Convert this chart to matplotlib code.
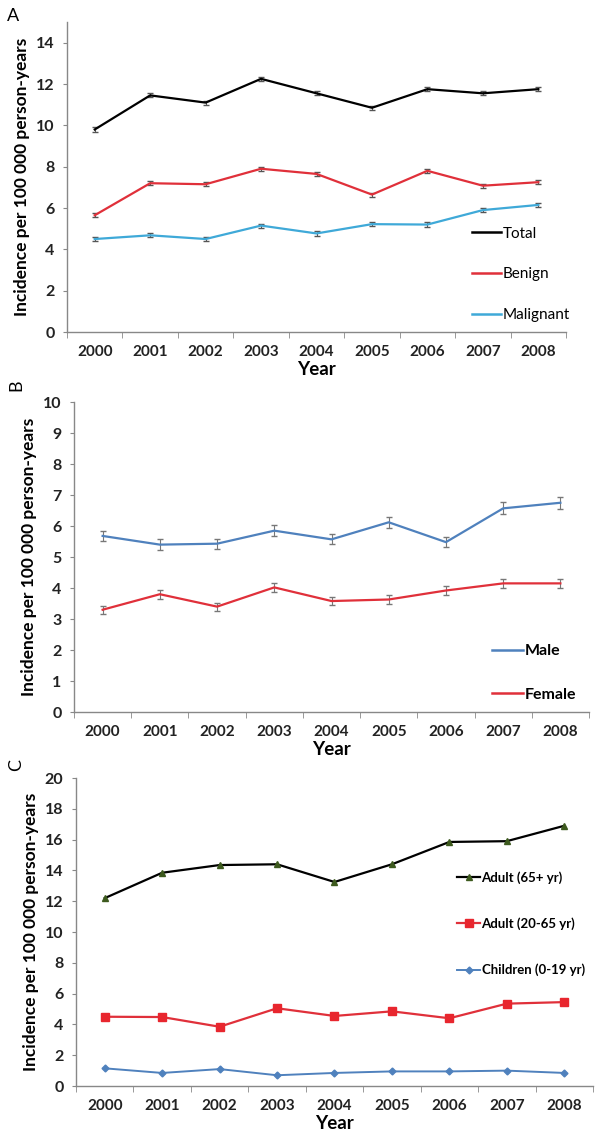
import matplotlib
matplotlib.use('Agg')
import matplotlib.pyplot as plt
from matplotlib.lines import Line2D
import numpy as np

plt.rcParams['font.family'] = ['Lato', 'DejaVu Sans']

years = ['2000', '2001', '2002', '2003', '2004', '2005', '2006', '2007', '2008']

# Panel A: by behaviour
total = [9.8, 11.45, 11.1, 12.25, 11.55, 10.85, 11.75, 11.55, 11.75]
benign = [5.65, 7.2, 7.15, 7.9, 7.65, 6.65, 7.8, 7.08, 7.25]
malignant = [4.5, 4.68, 4.5, 5.15, 4.77, 5.22, 5.2, 5.9, 6.15]
err_a = [0.1, 0.1, 0.1, 0.1, 0.1, 0.1, 0.1, 0.1, 0.1]

# Panel B: by sex
male = [5.68, 5.4, 5.43, 5.85, 5.57, 6.12, 5.48, 6.57, 6.75]
female = [3.3, 3.8, 3.4, 4.02, 3.58, 3.63, 3.92, 4.15, 4.15]
err_male = [0.17, 0.17, 0.16, 0.17, 0.16, 0.18, 0.16, 0.19, 0.19]
err_female = [0.13, 0.14, 0.13, 0.14, 0.13, 0.13, 0.14, 0.15, 0.15]

# Panel C: by age group
adult_65 = [12.2, 13.85, 14.35, 14.4, 13.25, 14.4, 15.85, 15.9, 16.9]
adult_20_65 = [4.5, 4.48, 3.85, 5.05, 4.55, 4.85, 4.4, 5.35, 5.45]
children = [1.15, 0.85, 1.1, 0.7, 0.85, 0.95, 0.95, 1.0, 0.85]

ylabel = 'Incidence per 100 000 person-years'
x = np.arange(len(years))

fig = plt.figure(figsize=(5.95, 11.34), dpi=100)
ax_a = fig.add_axes([0.1126, 0.7072, 0.8387, 0.2734])
ax_b = fig.add_axes([0.1244, 0.3721, 0.8655, 0.2734])
ax_c = fig.add_axes([0.1277, 0.0423, 0.8689, 0.2716])


def style_axes(ax, ymax, ystep):
    ax.set_xlim(-0.5, len(years) - 0.5)
    ax.set_ylim(0, ymax)
    ax.set_xticks(x)
    ax.set_xticklabels(years, fontsize=11, fontweight='bold', color='#222222')
    ax.set_xticks(np.arange(-0.5, len(years) + 0.5, 1), minor=True)
    ax.tick_params(axis='x', which='major', length=0, pad=9)
    ax.tick_params(axis='x', which='minor', length=4, color='#888888',
                   direction='out')
    ticks = np.arange(0, ymax + 0.01, ystep)
    ax.set_yticks(ticks)
    ax.set_yticklabels([str(int(v)) for v in ticks],
                       fontsize=11.5, fontweight='bold', color='#222222')
    ax.tick_params(axis='y', length=3, color='#888888', pad=6)
    for s in ['top', 'right']:
        ax.spines[s].set_visible(False)
    for s in ['left', 'bottom']:
        ax.spines[s].set_color('#888888')
        ax.spines[s].set_linewidth(1)
    ax.set_xlabel('Year', fontsize=13.5, fontweight='bold', labelpad=2)
    ax.set_ylabel(ylabel, fontsize=12.5, fontweight='bold', labelpad=4)


# Panel A
style_axes(ax_a, 15, 2)
ax_a.set_yticks(np.arange(0, 15, 2))
ax_a.set_yticklabels([str(v) for v in range(0, 15, 2)], fontsize=11.5,
                     fontweight='bold', color='#222222')
colors_a = ['#000000', '#e0303a', '#3fa9d8']
names_a = ['Total', 'Benign', 'Malignant']
for vals, col in zip([total, benign, malignant], colors_a):
    ax_a.errorbar(x, vals, yerr=err_a, color=col, lw=1.6, capsize=2,
                  ecolor='#555555', elinewidth=0.8)
handles = [Line2D([], [], color=c, lw=1.8) for c in colors_a]
ax_a.legend(handles, names_a, loc='upper left', bbox_to_anchor=(0.8, 0.36),
            frameon=False, fontsize=11, handlelength=1.9, handletextpad=0.1,
            labelspacing=1.75, borderaxespad=0)
fig.text(0.012, 0.993, 'A', fontsize=13, va='top', ha='left')

# Panel B
style_axes(ax_b, 10, 1)
ax_b.errorbar(x, male, yerr=err_male, color='#4f81bd', lw=1.6, capsize=2,
              ecolor='#777777', elinewidth=0.8)
ax_b.errorbar(x, female, yerr=err_female, color='#e0303a', lw=1.6, capsize=2,
              ecolor='#777777', elinewidth=0.8)
handles = [Line2D([], [], color='#4f81bd', lw=1.8),
           Line2D([], [], color='#e0303a', lw=1.8)]
ax_b.legend(handles, ['Male', 'Female'], loc='upper left',
            bbox_to_anchor=(0.80, 0.24), frameon=False,
            prop={'size': 11.5, 'weight': 'bold'}, handlelength=1.9,
            handletextpad=0.1, labelspacing=1.85, borderaxespad=0)
fig.text(0.014, 0.66, 'B', fontsize=13, va='center', ha='left', rotation=90)

# Panel C
style_axes(ax_c, 20, 2)
ax_c.plot(x, adult_65, color='#000000', lw=1.6, marker='^', markersize=4,
          markerfacecolor='#3d5a1e', markeredgecolor='#3d5a1e',
          label='Adult (65+ yr)')
ax_c.plot(x, adult_20_65, color='#e0303a', lw=1.6, marker='s', markersize=6,
          markerfacecolor='#e8262e', markeredgecolor='#e8262e',
          label='Adult (20-65 yr)')
ax_c.plot(x, children, color='#4f81bd', lw=1.4, marker='D', markersize=3.5,
          markerfacecolor='#4f81bd', markeredgecolor='#4f81bd',
          label='Children (0-19 yr)')
ax_c.legend(loc='upper left', bbox_to_anchor=(0.727, 0.715), frameon=False,
            prop={'size': 9.5, 'weight': 'bold'}, handlelength=1.75,
            numpoints=1, handletextpad=0.1, labelspacing=2.55,
            borderaxespad=0)
fig.text(0.014, 0.325, 'C', fontsize=13, va='center', ha='left', rotation=90)

fig.savefig('out.png', dpi=100)
